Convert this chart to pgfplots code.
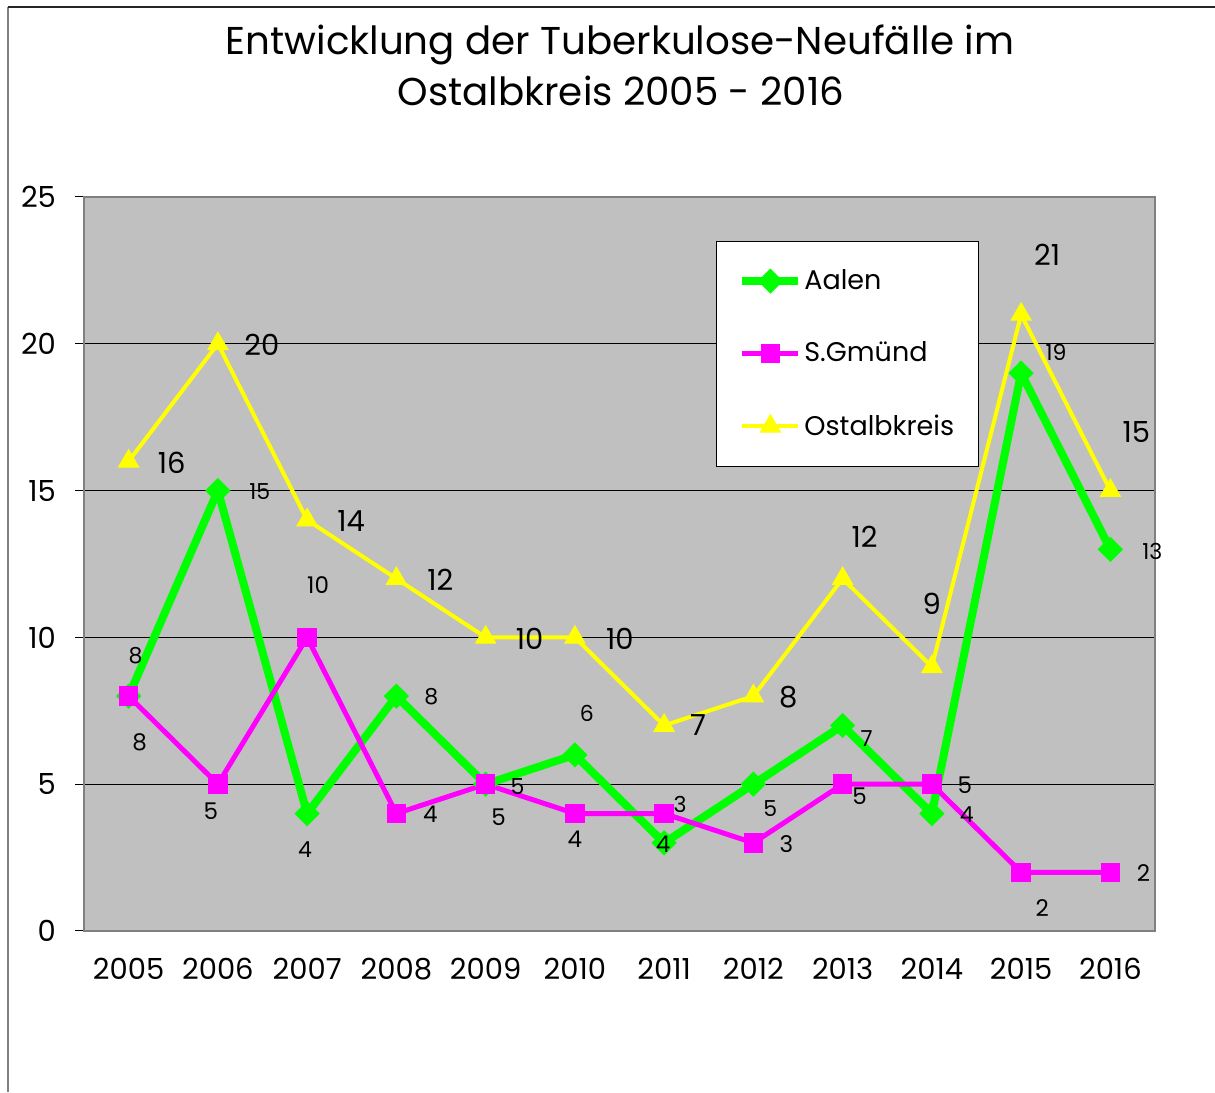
\documentclass[border=0pt]{standalone}
\usepackage{fontspec}
\setmainfont{Poppins}
\usepackage{pgfplots}
\usepackage{pgfplotstable}
\pgfplotsset{compat=1.18}
\definecolor{bg}{RGB}{192,192,192}
\definecolor{cgreen}{RGB}{0,255,0}
\definecolor{cmag}{RGB}{255,0,255}
\definecolor{cyel}{RGB}{255,255,0}

\pgfplotstableread{
x y
0 8
1 15
2 4
3 8
4 5
5 6
6 3
7 5
8 7
9 4
10 19
11 13
}\aalen
\pgfplotstableread{
x y
0 8
1 5
2 10
3 4
4 5
5 4
6 4
7 3
8 5
9 5
10 2
11 2
}\gmuend
\pgfplotstableread{
x y
0 16
1 20
2 14
3 12
4 10
5 10
6 7
7 8
8 12
9 9
10 21
11 15
}\ostalb

\pgfplotstableread{
x y dx dy lab
0 16 21.5 -1 16
1 20 22 -0.5 20
2 14 22 -0.5 14
3 12 22 -0.5 12
4 10 22 -0.5 10
5 10 22.5 -0.5 10
6 7 17 0 7
7 8 17.5 -0.5 8
8 12 11 21 12
9 9 0 31.5 9
10 21 13 30 21
11 15 13 29.5 15
}\ostlab
\pgfplotstableread{
x y dx dy lab
0 8 3.5 20 8
1 15 21 -0.5 15
2 4 -1 -18 4
3 8 17.5 -0.5 8
4 5 16 -1 5
5 6 6 20.5 6
6 3 8 19 3
7 5 8.5 -12 5
8 7 12 -6.5 7
9 4 17.5 -0.5 4
10 19 17.5 10.5 19
11 13 21 -1 13
}\aallab
\pgfplotstableread{
x y dx dy lab
0 8 5.5 -23 8
1 5 -3.5 -13.5 5
2 10 5.5 26 10
3 4 17 -0.5 4
4 5 6.5 -16.5 5
5 4 0 -13 4
6 4 -0.5 -15.5 4
7 3 16.5 -0.5 3
8 5 8.5 -6 5
9 5 16.5 -0.5 5
10 2 10.5 -18 2
11 2 16.5 -0.5 2
}\gmulab

\begin{document}
\begin{tikzpicture}
\useasboundingbox (0,0) rectangle (607.5pt,546pt);
\draw[gray, line width=0.8pt] (4pt,0pt) -- (4pt,542.5pt);
\draw[black!85, line width=0.8pt] (4pt,542.5pt) -- (607.5pt,542.5pt);
\node[anchor=base, font=\fontsize{19.4}{22}\selectfont, inner sep=0pt] at (310pt,518.5pt) {Entwicklung der Tuberkulose-Neufälle im};
\node[anchor=base, font=\fontsize{19.4}{22}\selectfont, inner sep=0pt] at (310.5pt,493pt) {Ostalbkreis 2005 - 2016};
\begin{axis}[
  at={(42pt,80.5pt)}, anchor=south west,
  scale only axis, width=535.5pt, height=367pt,
  xmin=-0.5, xmax=11.5, ymin=0, ymax=25,
  axis background/.style={fill=bg},
  axis line style={draw=gray, line width=1pt},
  xtick pos=bottom, ytick pos=left,
  xtick={0,...,11},
  xticklabels={2005,2006,2007,2008,2009,2010,2011,2012,2013,2014,2015,2016},
  xtick style={draw=none},
  minor xtick={-0.5,0.5,1.5,2.5,3.5,4.5,5.5,6.5,7.5,8.5,9.5,10.5,11.5},
  minor x tick style={black, line width=0.5pt},
  minor tick length=4.5pt,
  ytick={0,5,10,15,20,25},
  ytick style={black, line width=0.5pt},
  major tick length=4.5pt,
  tick align=outside,
  ymajorgrids, grid style={black, line width=0.5pt},
  /pgf/number format/assume math mode=true,
  ticklabel style={font=\fontsize{14.5}{17}\selectfont},
  yticklabel style={xshift=-6pt},
  xticklabel style={yshift=-5.5pt},
  legend style={at={(0.590,0.940)}, anchor=north west, draw=black, fill=white,
    line width=0.5pt, inner xsep=11pt, inner ysep=12pt, row sep=20.75pt,
    nodes={inner xsep=1pt},
    font=\fontsize{13.5}{16}\selectfont, legend cell align=left},
  legend image code/.code={\draw[mark repeat=2,mark phase=2,#1] plot coordinates {(0pt,0pt) (14pt,0pt) (28pt,0pt)};},
  clip=false,
]
\addplot[cgreen, line width=4pt, mark=square*, mark size=4.2pt, mark options={rotate=45, line width=0.5pt, fill=cgreen, draw=cgreen}] table[x=x,y=y] {\aalen};
\addlegendentry{Aalen}
\addplot[cmag, line width=2.5pt, mark=square*, mark size=4.6pt, mark options={line width=0.5pt, fill=cmag, draw=cmag}] table[x=x,y=y] {\gmuend};
\addlegendentry{S.Gmünd}
\addplot[cyel, line width=2pt, mark=triangle*, mark size=5.8pt, mark options={line width=0.5pt, fill=cyel, draw=cyel}] table[x=x,y=y] {\ostalb};
\addlegendentry{Ostalbkreis}

\addplot[draw=none, mark=none, forget plot, point meta=explicit symbolic,
  visualization depends on={\thisrow{dx} \as \dx},
  visualization depends on={\thisrow{dy} \as \dy},
  nodes near coords, nodes near coords style={anchor=center, inner sep=0pt, text=black, xshift={\dx*1pt}, yshift={\dy*1pt}, font=\fontsize{14.5}{17}\selectfont}]
  table[x=x,y=y,meta=lab] {\ostlab};
\addplot[draw=none, mark=none, forget plot, point meta=explicit symbolic,
  visualization depends on={\thisrow{dx} \as \dx},
  visualization depends on={\thisrow{dy} \as \dy},
  nodes near coords, nodes near coords style={anchor=center, inner sep=0pt, text=black, xshift={\dx*1pt}, yshift={\dy*1pt}, font=\fontsize{11}{13}\selectfont}]
  table[x=x,y=y,meta=lab] {\aallab};
\addplot[draw=none, mark=none, forget plot, point meta=explicit symbolic,
  visualization depends on={\thisrow{dx} \as \dx},
  visualization depends on={\thisrow{dy} \as \dy},
  nodes near coords, nodes near coords style={anchor=center, inner sep=0pt, text=black, xshift={\dx*1pt}, yshift={\dy*1pt}, font=\fontsize{11.5}{13}\selectfont}]
  table[x=x,y=y,meta=lab] {\gmulab};
\end{axis}
\end{tikzpicture}
\end{document}
